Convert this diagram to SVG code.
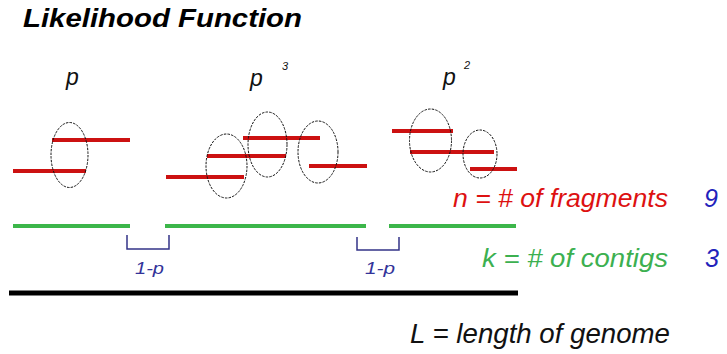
<svg xmlns="http://www.w3.org/2000/svg" width="727" height="354" viewBox="0 0 727 354">
<style>
.t{font-family:"Liberation Sans",Arial,sans-serif;font-style:italic}
.frag{stroke:#cc1111;stroke-width:4;fill:none}
.contig{stroke:#3cb64a;stroke-width:4;fill:none}
.ov{fill:none;stroke:#111;stroke-width:1;stroke-dasharray:2.5 1.2}
.br{fill:none;stroke:#333388;stroke-width:1.5}
</style>
<rect width="727" height="354" fill="#fff"/>
<g id="title"><text class="t" x="23" y="27" font-size="26" font-weight="bold" fill="#000" textLength="279" lengthAdjust="spacingAndGlyphs">Likelihood Function</text></g>
<g id="probs">
<text class="t" x="66" y="85" font-size="23" fill="#111">p</text>
<text class="t" x="250" y="86" font-size="23" fill="#111">p</text>
<text class="t" x="282" y="70" font-size="11" fill="#111">3</text>
<text class="t" x="443" y="85" font-size="23" fill="#111">p</text>
<text class="t" x="464" y="69" font-size="11" fill="#111">2</text>
</g>
<g id="fragments">
<line class="frag" x1="52" y1="140" x2="130" y2="140"/>
<line class="frag" x1="13" y1="171" x2="86" y2="171"/>
<line class="frag" x1="166" y1="177" x2="244" y2="177"/>
<line class="frag" x1="207" y1="156" x2="286" y2="156"/>
<line class="frag" x1="243" y1="138" x2="320" y2="138"/>
<line class="frag" x1="309" y1="166" x2="367" y2="166"/>
<line class="frag" x1="392" y1="131" x2="453" y2="131"/>
<line class="frag" x1="410" y1="152" x2="494" y2="152"/>
<line class="frag" x1="470" y1="169" x2="517" y2="169"/>
</g>
<g id="overlaps">
<ellipse class="ov" cx="69.5" cy="155" rx="18.5" ry="32.5"/>
<ellipse class="ov" cx="226.5" cy="166" rx="20.5" ry="32"/>
<ellipse class="ov" cx="267.5" cy="144.5" rx="19.5" ry="32.5"/>
<ellipse class="ov" cx="318" cy="152" rx="20" ry="31"/>
<ellipse class="ov" cx="430.5" cy="140.5" rx="21" ry="31.5"/>
<ellipse class="ov" cx="480" cy="154" rx="17" ry="24"/>
</g>
<g id="contigs">
<line class="contig" x1="13" y1="226" x2="130" y2="226"/>
<line class="contig" x1="165" y1="226" x2="366" y2="226"/>
<line class="contig" x1="389" y1="226" x2="516" y2="226"/>
</g>
<g id="gaps">
<path class="br" d="M127,235 V249 H169 V235"/>
<path class="br" d="M357,237 V250 H399 V237"/>
<text class="t" x="135" y="274" font-size="16" fill="#333399" textLength="29" lengthAdjust="spacingAndGlyphs">1-p</text>
<text class="t" x="365" y="274" font-size="16" fill="#333399" textLength="30" lengthAdjust="spacingAndGlyphs">1-p</text>
</g>
<g id="genome"><line x1="9" y1="293" x2="518" y2="293" stroke="#000" stroke-width="5"/></g>
<g id="legend">
<text class="t" x="453" y="207" font-size="25" fill="#dd1111" textLength="215" lengthAdjust="spacingAndGlyphs">n = # of fragments</text>
<text class="t" x="704" y="207" font-size="25" fill="#2222bb">9</text>
<text class="t" x="482" y="267" font-size="25" fill="#3cb050" textLength="186" lengthAdjust="spacingAndGlyphs">k = # of contigs</text>
<text class="t" x="705" y="267" font-size="25" fill="#2222bb">3</text>
<text class="t" x="410" y="343" font-size="27" fill="#111" textLength="260" lengthAdjust="spacingAndGlyphs">L = length of genome</text>
</g>
</svg>
